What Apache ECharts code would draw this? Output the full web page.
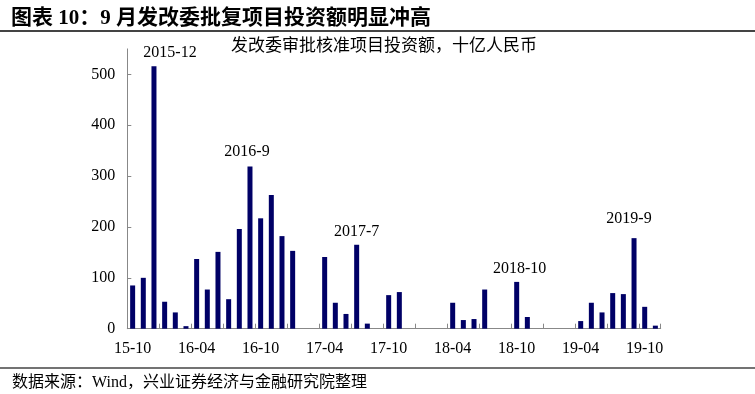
<!DOCTYPE html>
<html><head><meta charset="utf-8">
<script src="https://cdn.jsdelivr.net/npm/echarts@6/dist/echarts.min.js"></script>
<style>html,body{margin:0;padding:0;background:#fff}#c{width:755px;height:394px}</style>
</head><body><div id="c"></div>
<script>
// ---- data ----
var months = ['2015-10','2015-11','2015-12','2016-01','2016-02','2016-03','2016-04','2016-05','2016-06','2016-07','2016-08','2016-09','2016-10','2016-11','2016-12',
'2017-01','2017-02','2017-03','2017-04','2017-05','2017-06','2017-07','2017-08','2017-09','2017-10','2017-11','2017-12',
'2018-01','2018-02','2018-03','2018-04','2018-05','2018-06','2018-07','2018-08','2018-09','2018-10','2018-11','2018-12',
'2019-01','2019-02','2019-03','2019-04','2019-05','2019-06','2019-07','2019-08','2019-09','2019-10','2019-11'];
var investment = [85,100,516,53,32,5,137,77,151,58,196,319,217,263,182,
153,null,null,141,51,29,165,10,null,66,72,null,
null,null,null,51,17,19,77,null,null,92,23,null,
null,null,null,15,51,32,70,68,178,43,6];
var noteMonths = ['2015-12','2016-09','2017-07','2018-10','2019-09'];
var noteTexts = ['2015-12','2016-9','2017-7','2018-10','2019-9'];
var yTicks = [0,100,200,300,400,500];
var titleText = '图表 10：9 月发改委批复项目投资额明显冲高';
var subTitleText = '发改委审批核准项目投资额，十亿人民币';
var sourceText = '数据来源：Wind，兴业证券经济与金融研究院整理';

// ---- chart ----
var serif = 'Liberation Serif, "Noto Sans CJK SC", serif';
var noteOffsets = [[16,-5],[-3,-7],[0,-5],[3,-5],[-5,-11]];
var markData = noteMonths.map(function(m,i){
  var idx = months.indexOf(m);
  return {coord:[m, investment[idx]], value:noteTexts[i],
    label:{offset:noteOffsets[i]}};
});
var chart = echarts.init(document.getElementById('c'), null, {renderer:'canvas'});
chart.setOption({
  animation:false,
  backgroundColor:'#fff',
  title:[
    {text:titleText, left:6, top:3, textStyle:{fontFamily:serif, fontSize:21, fontWeight:'bold', color:'#000'}},
    {text:subTitleText, left:226, top:33, textStyle:{fontFamily:serif, fontSize:17, fontWeight:'normal', color:'#000'}},
    {text:sourceText, left:7, top:370, textStyle:{fontFamily:serif, fontSize:16, fontWeight:'normal', color:'#000'}}
  ],
  graphic:[
    {type:'line', shape:{x1:0,y1:31,x2:755,y2:31}, style:{stroke:'#444', lineWidth:2}},
    {type:'line', shape:{x1:0,y1:368,x2:755,y2:368}, style:{stroke:'#444', lineWidth:1.5}}
  ],
  grid:{left:127.3, right:94.3, top:48.9, bottom:65.3},
  xAxis:{
    type:'category', data:months, boundaryGap:true,
    axisLine:{lineStyle:{color:'#888', width:1}},
    axisTick:{show:true, inside:true, length:5, interval:2, lineStyle:{color:'#888'}},
    axisLabel:{interval:5, margin:12, fontFamily:serif, fontSize:16, color:'#000',
      formatter:function(v){return v.slice(2);}}
  },
  yAxis:{
    type:'value', min:0, max:550, interval:100,
    axisLine:{show:true, lineStyle:{color:'#888', width:1}},
    axisTick:{show:true, inside:true, length:4, lineStyle:{color:'#888'}},
    splitLine:{show:false},
    axisLabel:{margin:12, fontFamily:serif, fontSize:16, color:'#000', showMaxLabel:false,
      formatter:function(v){return yTicks.indexOf(v)>=0 ? String(v) : '';}}
  },
  series:[{
    type:'bar', data:investment, barWidth:5,
    itemStyle:{color:'#000066'},
    markPoint:{
      symbol:'circle', symbolSize:0, data:markData,
      label:{show:true, position:'top', distance:0, fontFamily:serif, fontSize:16, color:'#000',
        formatter:function(p){return p.value;}}
    }
  }]
});
</script></body></html>
